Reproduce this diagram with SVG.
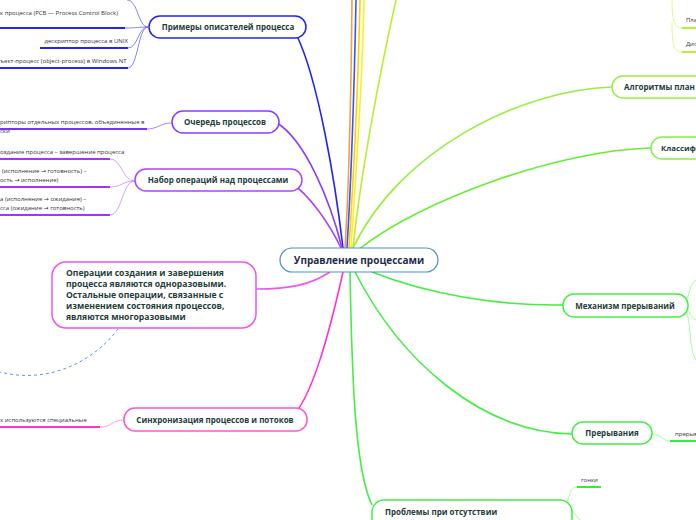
<svg xmlns="http://www.w3.org/2000/svg" width="696" height="520" viewBox="0 0 696 520">
<style>
.t{font-family:"Open Sans","Noto Sans","DejaVu Sans",sans-serif;font-weight:bold;font-size:8px;fill:#1e3d3a}
.n{font-family:"Open Sans","Noto Sans","DejaVu Sans",sans-serif;font-weight:bold;font-size:8.6px;fill:#1e3d3a}
.c{font-family:"Open Sans","Noto Sans","DejaVu Sans",sans-serif;font-size:6px;fill:#333}
.box{fill:#fff;stroke-width:1.5}
.ln{fill:none;stroke-width:1.6}
.ul{fill:none;stroke-width:2}
.sub{fill:none;stroke-width:0.8}
</style>
<rect width="696" height="520" fill="#fff"/>
<g id="connectors">
  <path class="ln" stroke="#f4a040" d="M352,0 C351,100 348,200 345,248"/>
  <path class="ln" stroke="#3355ff" d="M356,0 C354,100 350,200 347,248"/>
  <path class="ln" stroke="#ffd000" d="M360,0 C358,100 352,200 349,248"/>
  <path class="ln" stroke="#ffee22" d="M364,0 C362,100 354,200 351,248"/>
  <path class="ln" stroke="#bbee33" d="M396,0 C378,80 360,180 353,248"/>
  <path class="ln" stroke="#2222ff" d="M297,36 C318,80 335,180 343,248"/>
  <path class="ln" stroke="#8a3cff" d="M277,123 C305,140 330,200 342,248"/>
  <path class="ln" stroke="#aa44ff" d="M290,182 C310,195 330,225 341,248"/>
  <path class="ln" stroke="#ee55ee" d="M330,272 C310,285 290,289 256,289"/>
  <path class="ln" stroke="#ff33cc" d="M343,272 C330,330 312,400 290,419"/>
  <path fill="none" stroke="#5599ee" stroke-width="1" stroke-dasharray="3,3" d="M125,319 C100,360 50,385 0,372"/>
  <path class="ln" stroke="#99ee44" d="M612,87 C520,90 400,150 353,248"/>
  <path class="ln" stroke="#66ee33" d="M651,148 C560,150 420,200 358,250"/>
  <path class="ln" stroke="#44ee44" d="M372,272 C430,295 500,306 563,305"/>
  <path class="ln" stroke="#44ee44" d="M355,272 C400,360 480,432 572,434"/>
  <path class="ln" stroke="#44ee44" d="M350,272 C352,380 355,470 372,505"/>
  <path class="sub" stroke="#6666ff" d="M148,27 C138,27 138,0 127,0"/>
  <path class="sub" stroke="#6666ff" d="M148,27 C138,27 138,28 125,28"/>
  <path class="sub" stroke="#6666ff" d="M148,27 C138,27 138,48 128,48"/>
  <path class="sub" stroke="#6666ff" d="M148,27 C138,27 138,68 128,68"/>
  <path class="ul" stroke="#2222ff" d="M0,28 H125"/>
  <path class="ul" stroke="#2222ff" d="M40,48 H128"/>
  <path class="ul" stroke="#2222ff" d="M0,68 H128"/>
  <path class="sub" stroke="#9966ff" d="M172,123 C160,123 158,129 147,129"/>
  <path class="ul" stroke="#7733ff" d="M0,129 H147"/>
  <path class="sub" stroke="#cc88ff" d="M135,181 C122,181 122,159 110,159"/>
  <path class="sub" stroke="#cc88ff" d="M135,181 C122,181 122,187 110,187"/>
  <path class="sub" stroke="#cc88ff" d="M135,181 C122,181 122,215 110,215"/>
  <path class="ul" stroke="#aa33ee" d="M0,159 H110"/>
  <path class="ul" stroke="#aa33ee" d="M0,187 H110"/>
  <path class="ul" stroke="#aa33ee" d="M0,215 H110"/>
  <path class="sub" stroke="#ff88dd" d="M124,420 C112,420 112,427 100,427"/>
  <path class="ul" stroke="#ff33cc" d="M0,427 H100"/>
  <path class="sub" stroke="#ccff66" d="M672,0 C672,20 674,28 682,28"/>
  <path class="sub" stroke="#ccff66" d="M672,22 C672,45 674,52 682,52"/>
  <path class="ul" stroke="#bbee33" d="M682,28 H696"/>
  <path class="ul" stroke="#bbee33" d="M682,52 H696"/>
  <path class="sub" stroke="#88ff88" d="M683,304 C690,300 688,285 696,280"/>
  <path class="sub" stroke="#88ff88" d="M683,306 C690,308 690,318 696,320"/>
  <path class="sub" stroke="#88ff88" d="M683,306 C692,312 688,350 696,360"/>
  <path class="sub" stroke="#88ff88" d="M652,434 C662,434 662,441 670,441"/>
  <path class="ul" stroke="#33ee33" d="M670,441 H696"/>
  <path class="sub" stroke="#88ff88" d="M553,512 C562,510 562,502 567,502 C570,495 570,487 577,487"/>
  <path class="sub" stroke="#88ff88" d="M567,502 C572,508 575,515 580,520"/>
  <path class="ul" stroke="#33ee33" d="M577,487 H601"/>
</g>
<g id="center">
  <rect x="280" y="248" width="158" height="24" rx="12" fill="#fff" stroke="#4a90d0" stroke-width="1.2"/>
  <text x="359" y="263.5" text-anchor="middle" style="font-family:'Open Sans','Noto Sans',sans-serif;font-weight:bold;font-size:10px;fill:#1f2d4d">Управление процессами</text>
</g>
<g id="n-primery">
  <rect class="box" x="149" y="16" width="157" height="22" rx="11" stroke="#2222ff"/>
  <text class="t" x="228" y="30" text-anchor="middle">Примеры описателей процесса</text>
  <text class="c" x="0" y="15">к процесса (PCB — Process Control Block)</text>
  <text class="c" x="128" y="43" text-anchor="end">дескриптор процесса в UNIX</text>
  <text class="c" x="0" y="63">ъект-процесс (object-process) в Windows NT</text>
</g>
<g id="n-ochered">
  <rect class="box" x="172" y="111" width="107" height="22" rx="11" stroke="#8a3cff"/>
  <text class="t" x="225" y="125" text-anchor="middle">Очередь процессов</text>
  <text class="c" x="0" y="124">рипторы отдельных процессов, объединенные в</text>
  <text class="c" x="0" y="133">ски</text>
</g>
<g id="n-nabor">
  <rect class="box" x="135" y="169" width="167" height="22" rx="11" stroke="#aa44ff"/>
  <text class="t" x="218" y="183" text-anchor="middle">Набор операций над процессами</text>
  <text class="c" x="0" y="154">оздание процесса – завершение процесса</text>
  <text class="c" x="2" y="173">(исполнение → готовность) –</text>
  <text class="c" x="0" y="182">ость → исполнение)</text>
  <text class="c" x="0" y="201">а (исполнение → ожидание) –</text>
  <text class="c" x="0" y="210">сса (ожидание → готовность)</text>
</g>
<g id="n-note">
  <rect class="box" x="52" y="262" width="204" height="66" rx="14" stroke="#ee55ee"/>
  <text class="n" x="66" y="276">Операции создания и завершения</text>
  <text class="n" x="66" y="287">процесса являются одноразовыми.</text>
  <text class="n" x="66" y="298">Остальные операции, связанные с</text>
  <text class="n" x="66" y="309">изменением состояния процессов,</text>
  <text class="n" x="66" y="320">являются многоразовыми</text>
</g>
<g id="n-sinhr">
  <rect class="box" x="124" y="408" width="183" height="23" rx="11" stroke="#ff55cc"/>
  <text class="t" x="215" y="423" text-anchor="middle">Синхронизация процессов и потоков</text>
  <text class="c" x="0" y="422">х используются специальные</text>
</g>
<g id="n-algoritmy">
  <rect class="box" x="612" y="76" width="100" height="22" rx="11" stroke="#99ee44"/>
  <text class="t" x="624" y="90">Алгоритмы план</text>
  <text class="c" x="686" y="22">Пла</text>
  <text class="c" x="686" y="46">Дис</text>
</g>
<g id="n-klassif">
  <rect class="box" x="651" y="137" width="80" height="22" rx="11" stroke="#88ee44"/>
  <text class="t" x="661" y="151" style="font-size:7.8px">Классиф</text>
</g>
<g id="n-mehanizm">
  <rect class="box" x="563" y="294" width="125" height="23" rx="11" stroke="#44ee44"/>
  <text class="t" x="625" y="309" text-anchor="middle">Механизм прерываний</text>
</g>
<g id="n-preryvaniya">
  <rect class="box" x="572" y="422" width="80" height="22" rx="11" stroke="#44ee44"/>
  <text class="t" x="612" y="436" text-anchor="middle">Прерывания</text>
  <text class="c" x="675" y="436">прерыв</text>
</g>
<g id="n-problemy">
  <rect class="box" x="372" y="500" width="200" height="40" rx="12" stroke="#44ee44"/>
  <text class="t" x="385" y="515">Проблемы при отсутствии</text>
  <text class="c" x="581" y="482">гонки</text>
</g>
</svg>
